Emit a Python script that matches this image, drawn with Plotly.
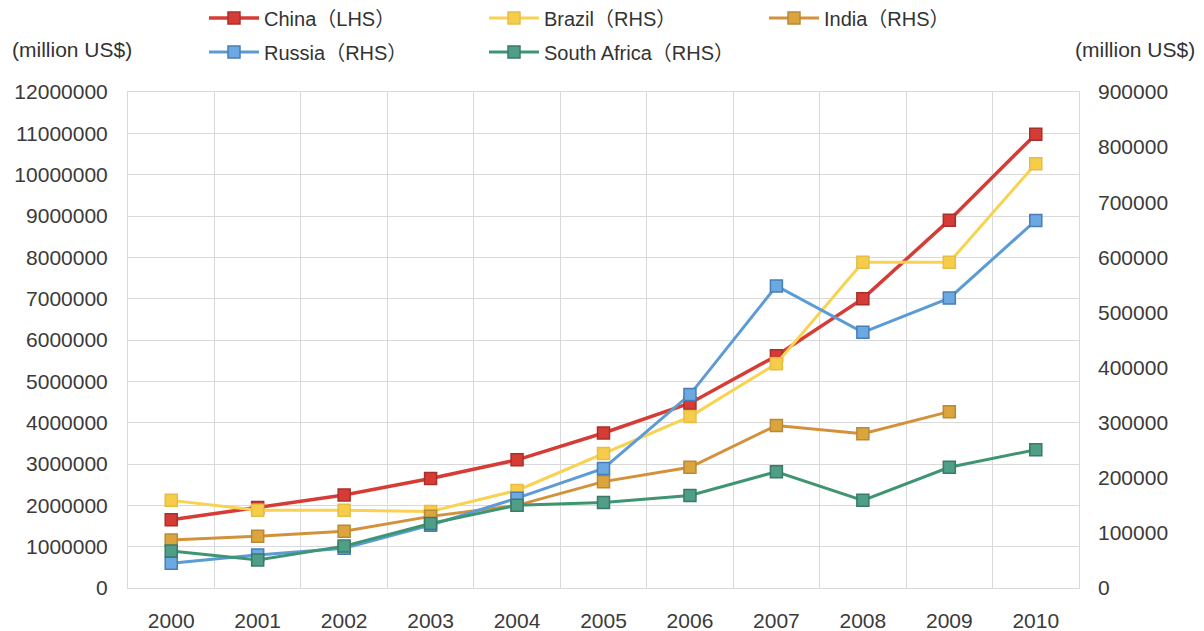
import plotly.graph_objects as go

years = ["2000", "2001", "2002", "2003", "2004", "2005", "2006", "2007", "2008", "2009", "2010"]

china_lhs = [1650000, 1950000, 2250000, 2650000, 3100000, 3750000, 4470000, 5620000, 7000000, 8900000, 10980000]
brazil_rhs = [159000, 141000, 141000, 139000, 177000, 244000, 311000, 407000, 591000, 591000, 770000]
india_rhs = [87000, 94000, 103000, 130000, 150000, 193000, 219000, 295000, 280000, 320000, None]
russia_rhs = [45000, 60000, 72000, 114000, 163000, 217000, 351000, 548000, 464000, 526000, 667000]
safrica_rhs = [67000, 51000, 76000, 117000, 150000, 155000, 168000, 211000, 159000, 219000, 251000]

left_ticks = list(range(0, 12000001, 1000000))
right_ticks = list(range(0, 900001, 100000))

series = [
    ("China（LHS）", china_lhs, "y", "#d63c35", "#d63c35", "#a8302b", "legend", 3.5),
    ("Brazil（RHS）", brazil_rhs, "y2", "#f8d250", "#f6cd4a", "#e5bd45", "legend", 3),
    ("India（RHS）", india_rhs, "y2", "#d3913a", "#dca43c", "#b9893a", "legend", 3),
    ("Russia（RHS）", russia_rhs, "y2", "#5b9bd6", "#6aa9e2", "#4a7db5", "legend2", 3),
    ("South Africa（RHS）", safrica_rhs, "y2", "#3f9572", "#4e9e88", "#3c7a68", "legend2", 3),
]

fig = go.Figure()
for name, vals, yax, lc, mc, mb, leg, lw in series:
    fig.add_trace(go.Scatter(
        x=years, y=vals, name=name, yaxis=yax, legend=leg,
        mode="lines+markers",
        line=dict(color=lc, width=lw),
        marker=dict(symbol="square", size=12, color=mc, line=dict(color=mb, width=1.5)),
        connectgaps=False,
    ))

tick_font = dict(family="Liberation Sans, Arial, sans-serif", size=21, color="#3a3a3a")
leg_font = dict(family="Liberation Sans, Noto Sans CJK SC, sans-serif", size=20, color="#333333")
grid = "#d9d9d9"

def legend_cfg(ypix):
    return dict(
        orientation="h", xref="container", yref="container",
        x=204 / 1204, y=1 - ypix / 631, xanchor="left", yanchor="middle",
        entrywidth=215, entrywidthmode="pixels", itemwidth=50,
        font=leg_font, bgcolor="rgba(0,0,0,0)",
    )

fig.update_layout(
    width=1204, height=631,
    margin=dict(l=128, r=125, t=92, b=43, autoexpand=False),
    paper_bgcolor="white", plot_bgcolor="white",
    showlegend=True,
    legend=legend_cfg(18),
    legend2=legend_cfg(52),
    xaxis=dict(
        type="category", range=[-0.5, 10.5], tickson="boundaries", ticks="",
        showgrid=True, gridcolor=grid, gridwidth=1,
        showline=True, linecolor=grid, mirror=True,
        tickfont=tick_font, ticklabelstandoff=14,
    ),
    yaxis=dict(
        range=[0, 12000000], tickvals=left_ticks, tickformat="d",
        showgrid=True, gridcolor=grid, gridwidth=1, zeroline=False,
        showline=True, linecolor=grid, mirror=True,
        tickfont=tick_font, ticks="", ticklabelstandoff=15,
    ),
    yaxis2=dict(
        range=[0, 900000], tickvals=right_ticks, tickformat="d",
        overlaying="y", side="right", showgrid=False, zeroline=False,
        tickfont=tick_font, ticks="", ticklabelstandoff=18,
    ),
    annotations=[
        dict(text="(million US$)", xref="paper", yref="paper", x=-0.0589, y=1.0847,
             xanchor="center", yanchor="middle", showarrow=False,
             font=dict(family="Liberation Sans, sans-serif", size=21, color="#333333")),
        dict(text="(million US$)", xref="paper", yref="paper", x=1.0589, y=1.0847,
             xanchor="center", yanchor="middle", showarrow=False,
             font=dict(family="Liberation Sans, sans-serif", size=21, color="#333333")),
    ],
)

fig.write_html("out.html", config={"displayModeBar": False},
               post_script="document.body.style.margin='0';")
